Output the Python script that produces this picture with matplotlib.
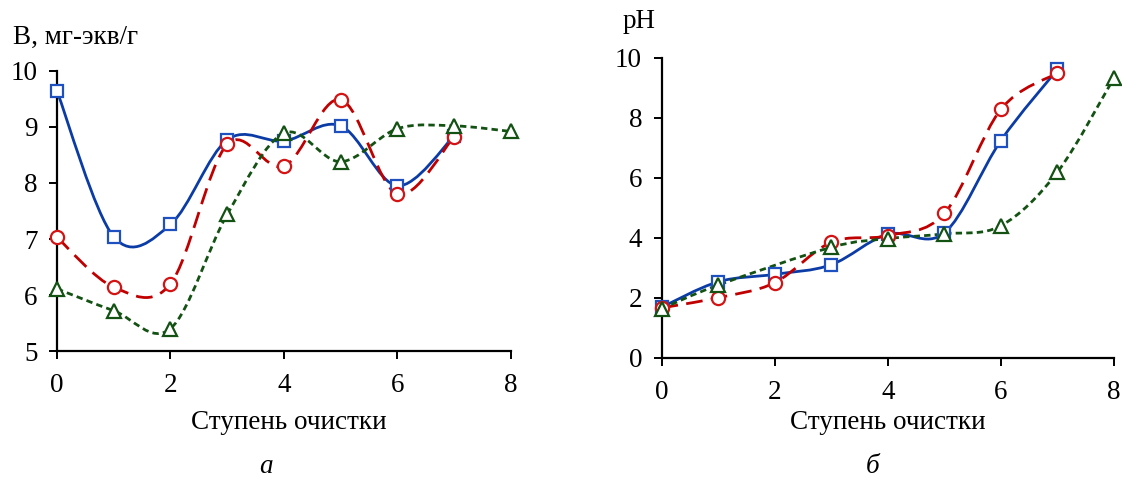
import numpy as np
import matplotlib
matplotlib.use("Agg")
import matplotlib.pyplot as plt
from matplotlib.path import Path
from matplotlib.patches import PathPatch

plt.rcParams['font.family'] = ['Liberation Serif', 'DejaVu Serif']

# panel a: exchange capacity, mg-eq/g
a_blue_x = [0, 1, 2, 3, 4, 5, 6, 7]
a_blue_y = [9.64, 7.04, 7.26, 8.77, 8.75, 9.02, 7.95, 8.84]
a_red_x = [0, 1, 2, 3, 4, 5, 6, 7]
a_red_y = [7.03, 6.14, 6.20, 8.69, 8.30, 9.49, 7.80, 8.83]
a_green_x = [0, 1, 2, 3, 4, 5, 6, 7, 8]
a_green_y = [6.11, 5.72, 5.40, 7.44, 8.89, 8.38, 8.97, 9.02, 8.92]

# panel b: pH
b_blue_x = [0, 1, 2, 3, 4, 5, 6, 7]
b_blue_y = [1.68, 2.53, 2.78, 3.10, 4.12, 4.16, 7.24, 9.61]
b_red_x = [0, 1, 2, 3, 4, 5, 6, 7]
b_red_y = [1.66, 2.00, 2.50, 3.85, 4.07, 4.81, 8.28, 9.49]
b_green_x = [0, 1, 3, 4, 5, 6, 7, 8]
b_green_y = [1.63, 2.42, 3.68, 3.97, 4.13, 4.40, 6.19, 9.33]

BLUE, BLUE_M = '#0b3ca6', '#1f50c0'
RED, RED_M = '#c00000', '#d41414'
GREEN, GREEN_M = '#145214', '#145214'
FS = 19.5


def smooth_path(x, y):
  # excel-like smoothed line: catmull-rom as cubic bezier
  p = np.column_stack([x, y]).astype(float)
  n = len(p)
  verts = [p[0]]
  codes = [Path.MOVETO]
  for i in range(n - 1):
    p0 = p[i - 1] if i > 0 else p[i]
    p1 = p[i]
    p2 = p[i + 1]
    p3 = p[i + 2] if i + 2 < n else p[i + 1]
    c1 = p1 + (p2 - p0) / 6.0
    c2 = p2 - (p3 - p1) / 6.0
    verts += [c1, c2, p2]
    codes += [Path.CURVE4] * 3
  return Path(verts, codes)


def draw_series(ax, x, y, col, mcol, ls, marker, ms):
  ax.add_patch(PathPatch(smooth_path(x, y), fill=False, edgecolor=col,
                         lw=2.0, linestyle=ls, capstyle='butt', clip_on=False))
  ax.plot(x, y, linestyle='none', marker=marker, ms=ms, mfc='white',
          mec=mcol, mew=1.6, clip_on=False, zorder=3)


def style_axis(ax):
  for s in ['top', 'right']:
    ax.spines[s].set_visible(False)
  for s in ['left', 'bottom']:
    ax.spines[s].set_linewidth(1.6)
  ax.tick_params(axis='both', direction='out', length=6, width=1.4, labelsize=FS)
  ax.tick_params(axis='x', pad=10)
  ax.tick_params(axis='y', pad=8)


fig = plt.figure(figsize=(11.22, 4.79), dpi=100)

ax1 = fig.add_axes([0.0508, 0.2672, 0.4046, 0.5846])
draw_series(ax1, a_blue_x, a_blue_y, BLUE, BLUE_M, '-', 's', 8.8)
draw_series(ax1, a_red_x, a_red_y, RED, RED_M, (0, (6, 3)), 'o', 9.5)
draw_series(ax1, a_green_x, a_green_y, GREEN, GREEN_M, (0, (2.3, 1.5)), '^', 10.5)
ax1.set_xlim(0, 8)
ax1.set_ylim(5, 10)
ax1.set_xticks([0, 2, 4, 6, 8])
ax1.set_yticks([5, 6, 7, 8, 9, 10])
style_axis(ax1)
ax1.set_xlabel('Ступень очистки', fontsize=FS)
ax1.xaxis.set_label_coords(0.51, -0.21)
fig.text(0.012, 0.922, 'В, мг-экв/г', fontsize=FS, va='center', ha='left')
fig.text(0.237, 0.027, 'а', fontsize=FS, style='italic', ha='center', va='center')

ax2 = fig.add_axes([0.5896, 0.2532, 0.4033, 0.6263])
draw_series(ax2, b_blue_x, b_blue_y, BLUE, BLUE_M, '-', 's', 8.8)
draw_series(ax2, b_red_x, b_red_y, RED, RED_M, (0, (6, 3)), 'o', 9.5)
draw_series(ax2, b_green_x, b_green_y, GREEN, GREEN_M, (0, (2.3, 1.5)), '^', 10.5)
ax2.set_xlim(0, 8)
ax2.set_ylim(0, 10)
ax2.set_xticks([0, 2, 4, 6, 8])
ax2.set_yticks([0, 2, 4, 6, 8, 10])
style_axis(ax2)
ax2.set_xlabel('Ступень очистки', fontsize=FS)
ax2.xaxis.set_label_coords(0.5, -0.175)
fig.text(0.555, 0.955, 'pH', fontsize=FS, va='center', ha='left')
fig.text(0.778, 0.027, 'б', fontsize=FS, style='italic', ha='center', va='center')

fig.savefig('out.png', dpi=100)
